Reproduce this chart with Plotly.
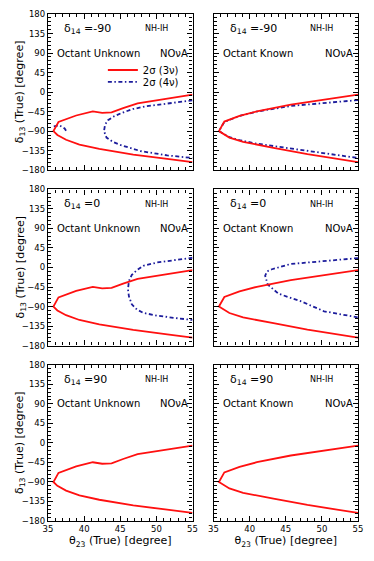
import plotly.graph_objects as go
from plotly.subplots import make_subplots

# theta23 (x) and delta13 (y) values, in degrees.
# red = 2 sigma (3 nu), blue = 2 sigma (4 nu); branches start at the apex.
red_unknown_up_theta = [35.75, 36.45, 37.5, 38.9, 41.2, 42.5, 43.8, 45.4, 47.4, 50.1, 55.0]
red_unknown_up_delta = [-90, -69, -62, -54, -44.5, -48, -47, -37, -26, -19, -6]
red_unknown_low_theta = [35.75, 36.3, 37.5, 39.35, 42.1, 46.8, 51.5, 55.0]
red_unknown_low_delta = [-90, -99, -110, -121, -131, -144, -154, -161.5]

red_known_up_theta = [35.75, 36.5, 38.6, 41.0, 45.7, 50.3, 55.0]
red_known_up_delta = [-90, -68, -55, -44.5, -29, -17, -6]
red_known_low_theta = [35.75, 37.2, 39.1, 43.3, 48.0, 55.0]
red_known_low_delta = [-90, -105, -115, -128.5, -143, -161.5]

# delta14 = -90
blue_m90_unknown_up_theta = [42.75, 42.9, 43.3, 44.0, 45.2, 46.8, 48.5, 50.6, 55.0]
blue_m90_unknown_up_delta = [-90, -75, -65, -57, -48, -39, -33, -28, -19]
blue_m90_unknown_low_theta = [42.75, 43.1, 44.0, 45.0, 47.8, 51.5, 55.0]
blue_m90_unknown_low_delta = [-90, -105, -115, -122, -136, -146, -152]
blue_m90_island_theta = [35.8, 36.6, 37.3, 37.6]
blue_m90_island_delta = [-79, -77, -84, -92]

blue_m90_known_up_theta = [35.75, 36.5, 38.6, 41.0, 45.7, 50.3, 55.0]
blue_m90_known_up_delta = [-90, -69, -55, -45, -32, -24.5, -18.5]
blue_m90_known_low_theta = [35.75, 37.2, 38.6, 41.0, 45.7, 50.3, 55.0]
blue_m90_known_low_delta = [-90, -104, -111, -119, -130, -142, -152]

# delta14 = 0
blue_0_unknown_up_theta = [46.07, 46.2, 46.6, 47.3, 48.2, 50.1, 52.4, 55.0]
blue_0_unknown_up_delta = [-50.4, -31, -17, -6, 3.9, 11.6, 17, 22.5]
blue_0_unknown_low_theta = [46.07, 46.2, 46.6, 47.3, 48.2, 50.1, 52.4, 55.0]
blue_0_unknown_low_delta = [-50.4, -66.5, -85, -97, -104.7, -111, -116, -121]

blue_0_known_up_theta = [42.15, 42.4, 43.1, 45.65, 50.3, 55.0]
blue_0_known_up_delta = [-19, -9, -4, 8, 15.5, 21.7]
blue_0_known_low_theta = [42.15, 42.5, 44.0, 47.05, 50.3, 53.1, 55.0]
blue_0_known_low_delta = [-19, -39, -60.5, -77.6, -101, -108.6, -115]

delta14_labels = ["-90", "0", "90"]
octant_labels = ["Octant Unknown", "Octant Known"]
x_ticks = [35, 40, 45, 50, 55]
y_ticks = [180, 135, 90, 45, 0, -45, -90, -135, -180]

RED = "#ff1010"
BLUE = "#1c1c9c"
FONT = "DejaVu Sans"


def join(up_t, up_d, low_t, low_d):
    return up_t[::-1] + low_t[1:], up_d[::-1] + low_d[1:]


red_curves = [join(red_unknown_up_theta, red_unknown_up_delta, red_unknown_low_theta, red_unknown_low_delta),
              join(red_known_up_theta, red_known_up_delta, red_known_low_theta, red_known_low_delta)]

blue_curves = {
    (1, 1): [join(blue_m90_unknown_up_theta, blue_m90_unknown_up_delta,
                  blue_m90_unknown_low_theta, blue_m90_unknown_low_delta),
             (blue_m90_island_theta, blue_m90_island_delta)],
    (1, 2): [join(blue_m90_known_up_theta, blue_m90_known_up_delta,
                  blue_m90_known_low_theta, blue_m90_known_low_delta)],
    (2, 1): [join(blue_0_unknown_up_theta, blue_0_unknown_up_delta,
                  blue_0_unknown_low_theta, blue_0_unknown_low_delta)],
    (2, 2): [join(blue_0_known_up_theta, blue_0_known_up_delta,
                  blue_0_known_low_theta, blue_0_known_low_delta)],
}

fig = make_subplots(rows=3, cols=2, horizontal_spacing=21 / 310, vertical_spacing=19.3 / 507)

for r in range(1, 4):
    for c in range(1, 3):
        first = (r, c) == (1, 1)
        for th, de in blue_curves.get((r, c), []):
            fig.add_trace(go.Scatter(
                x=th, y=de, mode="lines", name="2σ (4ν)",
                line=dict(color=BLUE, width=1.8, dash="4px,2.5px,1.5px,2.5px"),
                showlegend=first and len(th) > 4, legend="legend2"), row=r, col=c)
        th, de = red_curves[c - 1]
        fig.add_trace(go.Scatter(
            x=th, y=de, mode="lines", name="2σ (3ν)",
            line=dict(color=RED, width=1.8),
            showlegend=first, legend="legend"), row=r, col=c)

        n = (r - 1) * 2 + c
        xr, yr = ("x" if n == 1 else f"x{n}"), ("y" if n == 1 else f"y{n}")
        fig.add_annotation(x=37.0, y=146, xref=xr, yref=yr, xanchor="left", yanchor="middle",
                           text=f"δ<sub>14</sub> ={delta14_labels[r - 1]}", showarrow=False,
                           font=dict(size=11))
        fig.add_annotation(x=48.1, y=146, xref=xr, yref=yr, xanchor="left", yanchor="middle",
                           text="NH-IH", showarrow=False, font=dict(size=8))
        fig.add_annotation(x=36.0, y=90, xref=xr, yref=yr, xanchor="left", yanchor="middle",
                           text=octant_labels[c - 1], showarrow=False, font=dict(size=10))
        fig.add_annotation(x=54.6, y=90, xref=xr, yref=yr, xanchor="right", yanchor="middle",
                           text="NOνA", showarrow=False, font=dict(size=10))

        fig.update_xaxes(row=r, col=c, range=[35, 55], tickvals=x_ticks,
                         showticklabels=(r == 3))
        fig.update_yaxes(row=r, col=c, range=[-180, 180], tickvals=y_ticks,
                         showticklabels=(c == 1))
        if r == 3:
            fig.update_xaxes(row=r, col=c, title_text="θ<sub>23</sub> (True) [degree]",
                             title_standoff=2)
        if c == 1:
            # y title as rotated text so it can sit close to the tick labels
            dom = fig.layout["yaxis" if n == 1 else f"yaxis{n}"].domain
            fig.add_annotation(x=-0.09, y=(dom[0] + dom[1]) / 2, xref="paper", yref="paper",
                               xanchor="center", yanchor="middle", textangle=-90,
                               text="δ<sub>13</sub> (True) [degree]", showarrow=False,
                               font=dict(size=11))

axis_style = dict(showgrid=False, zeroline=False, showline=True, linecolor="black", linewidth=1.3,
                  mirror="allticks", ticks="inside", ticklen=5, tickwidth=1, tickcolor="black",
                  tickfont=dict(size=8.5), title_font=dict(size=11), automargin=False)
fig.update_xaxes(**axis_style, minor=dict(ticks="inside", ticklen=3, dtick=1, tick0=35,
                                          tickcolor="black", showgrid=False))
fig.update_yaxes(**axis_style, minor=dict(ticks="inside", ticklen=3, dtick=9, tick0=-180,
                                          tickcolor="black", showgrid=False))

fig.update_layout(
    width=374, height=561,
    margin=dict(l=48, r=16, t=14, b=40),
    paper_bgcolor="white", plot_bgcolor="white",
    font=dict(family=FONT, color="black", size=10),
    legend=dict(x=0.177, y=0.8895, xanchor="left", yanchor="middle",
                bgcolor="rgba(0,0,0,0)", font=dict(size=10), borderwidth=0),
    legend2=dict(x=0.177, y=0.866, xanchor="left", yanchor="middle",
                 bgcolor="rgba(0,0,0,0)", font=dict(size=10), borderwidth=0),
)

# page body margin would otherwise push the figure 8px right/down
fig.write_html("out.html", config={"displayModeBar": False},
               post_script="document.body.style.margin='0';")
